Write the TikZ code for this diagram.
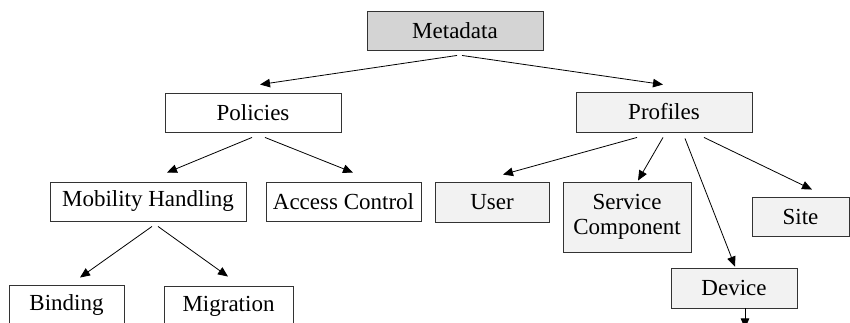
\documentclass[tikz,border=0pt]{standalone}
\usepackage{fontspec}
\setmainfont{Liberation Serif}
\usetikzlibrary{arrows.meta}

\definecolor{rootfill}{HTML}{D4D4D4}
\definecolor{greyfill}{HTML}{F2F2F2}
\definecolor{edgegrey}{HTML}{333333}

\tikzset{
  box/.style={draw=edgegrey, line width=0.9pt, inner sep=0pt,
    font=\fontsize{23}{25}\selectfont, align=center},
  whitebox/.style={box, fill=white},
  greybox/.style={box, fill=greyfill},
  rootbox/.style={box, fill=rootfill},
  link/.style={draw=black, line width=0.8pt, -{Triangle[length=10pt,width=8.5pt]}}
}

\begin{document}
\begin{tikzpicture}[x=1pt, y=-1pt]
  \path[use as bounding box] (0,0) rectangle (850,323);
  \clip (0,0) rectangle (850,323);

  % root
  \node[rootbox, minimum width=176pt, minimum height=39pt] (meta) at (455,30.5) {Metadata};

  % second level
  \node[whitebox, minimum width=176pt, minimum height=39pt] (pol) at (253,112.5) {Policies};
  \node[greybox, minimum width=176pt, minimum height=40pt] (prof) at (664,112) {Profiles};

  % policy branch
  \node[whitebox, minimum width=196pt, minimum height=39pt] (mob) at (148,201.5) {Mobility Handling};
  \node[whitebox, minimum width=155pt, minimum height=39pt] (acc) at (343.5,201.5) {Access Control};
  \node[whitebox, minimum width=115pt, minimum height=40pt] (bind) at (66.5,305) {Binding};
  \node[whitebox, minimum width=129pt, minimum height=40pt] (mig) at (228.5,306) {Migration};

  % profile branch
  \node[greybox, minimum width=114pt, minimum height=40pt] (user) at (492,202) {User};
  \node[greybox, minimum width=128pt, minimum height=70pt] (serv) at (627,217) {Service\\Component};
  \node[greybox, minimum width=97pt, minimum height=39pt] (site) at (800.5,216.5) {Site};
  \node[greybox, minimum width=126pt, minimum height=40pt] (dev) at (734,288) {Device};

  \coordinate (devout) at ([shift={(11,20)}]dev.south);

  % connectors
  \draw[link] ([shift={(2,5)}]meta.south) -- ([shift={(7,-8)}]pol.north);
  \draw[link] ([shift={(7,5)}]meta.south) -- ([shift={(-1,-7)}]prof.north);

  \draw[link] ([shift={(-1,5)}]pol.south) -- ([shift={(19,-9)}]mob.north);
  \draw[link] ([shift={(12,5)}]pol.south) -- ([shift={(9.5,-9)}]acc.north);

  \draw[link] ([shift={(4,5)}]mob.south) -- ([shift={(13.5,-7)}]bind.north);
  \draw[link] ([shift={(10,5)}]mob.south) -- ([shift={(-0.5,-9)}]mig.north);

  \draw[link] ([shift={(-27,5)}]prof.south) -- ([shift={(11,-7)}]user.north);
  \draw[link] ([shift={(-1,5)}]prof.south) -- ([shift={(11,-1)}]serv.north);
  \draw[link] ([shift={(21,6)}]prof.south) -- ([shift={(1,-1)}]dev.north);
  \draw[link] ([shift={(40,5)}]prof.south) -- ([shift={(11.5,-7)}]site.north);

  \draw[link] ([shift={(11,0)}]dev.south) -- (devout);
\end{tikzpicture}
\end{document}
